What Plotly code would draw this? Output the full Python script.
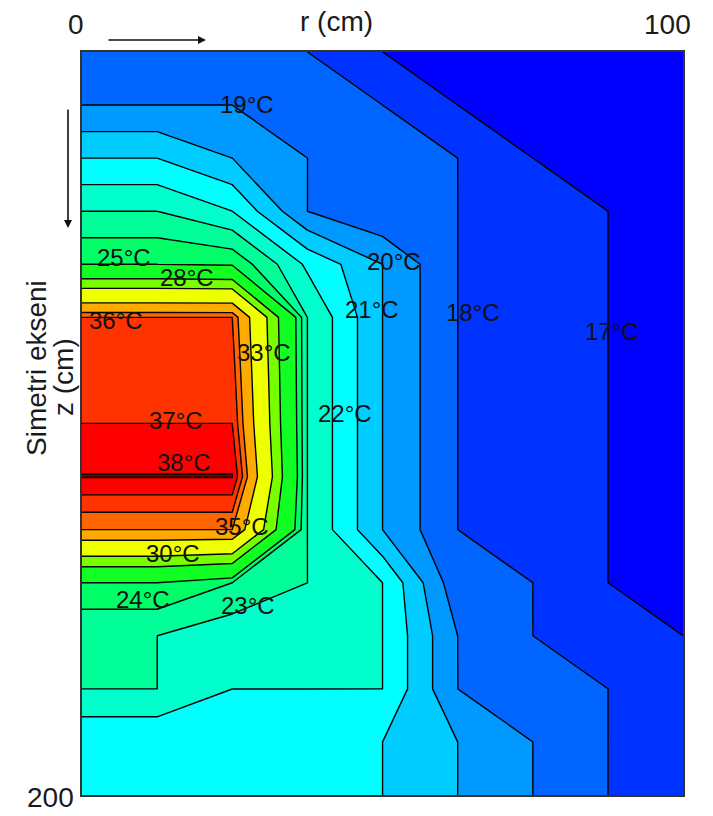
import plotly.graph_objects as go

# ---------------- data ----------------
r_cm = [0, 12.5, 25, 37.5, 50, 62.5, 75, 87.5, 100]
z_cm = [0, 14.29, 28.57, 42.86, 57.14, 71.43, 85.71, 100, 114.29,
        128.57, 142.86, 157.14, 171.43, 185.71, 200]

# temperature (degC): one row per z node, one column per r node
temperature_c = [
    [18.6, 18.6, 18.6, 18.0, 17.0, 16.6, 16.4, 16.3, 16.2],
    [19.0, 19.0, 19.0, 18.6, 18.0, 17.0, 16.6, 16.4, 16.3],
    [21.0, 21.0, 20.0, 19.0, 18.5, 18.0, 17.0, 16.6, 16.4],
    [23.0, 23.0, 22.0, 19.0, 18.1, 18.0, 17.5, 17.0, 16.5],
    [25.0, 25.0, 24.8, 21.8, 20.0, 18.0, 17.5, 17.0, 16.5],
    [36.0, 36.0, 36.0, 23.0, 20.0, 18.0, 17.5, 17.0, 16.5],
    [36.5, 36.5, 36.5, 23.0, 20.0, 18.0, 17.5, 17.0, 16.5],
    [37.0, 37.0, 37.0, 23.0, 20.0, 18.0, 17.5, 17.0, 16.5],
    [38.05, 38.05, 38.05, 23.0, 20.0, 18.0, 17.5, 17.0, 16.5],
    [35.0, 35.0, 35.0, 23.0, 20.0, 18.0, 17.5, 17.0, 16.5],
    [25.0, 25.0, 24.0, 23.0, 22.0, 18.3, 18.0, 17.0, 16.5],
    [23.0, 23.0, 22.3, 22.5, 22.0, 19.0, 18.0, 17.5, 17.0],
    [23.0, 23.0, 22.0, 22.0, 22.0, 19.0, 18.5, 18.0, 17.5],
    [21.1, 21.1, 21.5, 21.5, 21.0, 20.0, 19.0, 18.0, 17.5],
    [21.5, 21.5, 21.5, 21.5, 21.0, 20.0, 19.0, 18.0, 17.5],
]

contour_levels = [17, 18, 19, 20, 21, 22, 23, 24, 25, 28, 30, 33, 35, 36, 37, 38]

band_colors = ['#0000FF', '#0033FF', '#0066FF', '#0099FF', '#00CCFF', '#00FFFF',
               '#00FFCC', '#00FF99', '#00FF66', '#11FF22', '#77FF00', '#EEFF00',
               '#FFAA00', '#FF6600', '#FF3300', '#FF0000', '#700000']

label_texts = ['19°C', '20°C', '21°C', '18°C', '17°C', '22°C', '25°C', '28°C',
               '36°C', '33°C', '37°C', '38°C', '35°C', '30°C', '24°C', '23°C']
label_r = [27.5, 51.9, 48.3, 65.1, 88.2, 43.8, 7.0, 17.5,
           5.7, 30.3, 15.6, 17.0, 26.6, 15.1, 10.1, 27.6]
label_z = [14.0, 56.5, 69.4, 70.0, 75.1, 97.2, 55.4, 60.6,
           72.4, 80.8, 99.1, 110.4, 127.6, 134.9, 147.5, 148.9]

# ---------------- figure ----------------
EPS = 0.001
fill_start, fill_end = 17 - EPS, 39 - EPS
n_lev = int(round(fill_end - fill_start)) + 1  # 1-degree fill levels
colorscale = []
for j in range(n_lev + 1):
    t_mid = 16.5 + j
    g = sum(1 for L in contour_levels if L <= t_mid)
    c = band_colors[g]
    lo = max(0.0, (j - 0.45) / n_lev)
    hi = min(1.0, (j + 0.45) / n_lev)
    colorscale.append([lo, c])
    colorscale.append([hi, c])

fig = go.Figure()
fig.add_trace(go.Contour(
    x=r_cm, y=z_cm, z=temperature_c,
    autocontour=False,
    contours=dict(start=fill_start, end=fill_end, size=1, coloring='fill', showlines=False),
    colorscale=colorscale, showscale=False, line=dict(width=0, smoothing=0),
    hoverinfo='skip'))

for L in contour_levels:
    fig.add_trace(go.Contour(
        x=r_cm, y=z_cm, z=temperature_c,
        autocontour=False,
        contours=dict(start=L - EPS, end=L - EPS, size=1, coloring='none', showlines=True),
        line=dict(color='black', width=1.4, smoothing=0),
        showscale=False, hoverinfo='skip'))

label_font = dict(family='Liberation Sans Narrow, Arial Narrow, Liberation Sans, Arial, sans-serif',
                  size=24, color='#111111')
annotations = []
for t, rr, zz in zip(label_texts, label_r, label_z):
    annotations.append(dict(x=rr, y=zz, xref='x', yref='y', text=t, showarrow=False,
                            font=label_font, xanchor='center', yanchor='middle'))

W, H = 713, 816
ML, MR, MT, MB = 82, 30, 52, 21
PW, PH = W - ML - MR, H - MT - MB


def px(xp):
    return (xp - ML) / PW


def py(yp):
    return 1 - (yp - MT) / PH


axis_font = dict(family='Liberation Sans, Arial, sans-serif', size=28, color='#1a1a1a')
annotations += [
    dict(x=px(76), y=py(24), xref='paper', yref='paper', text='0', showarrow=False,
         font=axis_font, xanchor='center', yanchor='middle'),
    dict(x=px(667), y=py(24), xref='paper', yref='paper', text='100', showarrow=False,
         font=axis_font, xanchor='center', yanchor='middle'),
    dict(x=px(336), y=py(22), xref='paper', yref='paper', text='r (cm)', showarrow=False,
         font=axis_font, xanchor='center', yanchor='middle'),
    dict(x=px(50), y=py(797), xref='paper', yref='paper', text='200', showarrow=False,
         font=axis_font, xanchor='center', yanchor='middle'),
    dict(x=px(36), y=py(368), xref='paper', yref='paper', text='Simetri ekseni', showarrow=False,
         font=axis_font, xanchor='center', yanchor='middle', textangle=-90),
    dict(x=px(63), y=py(377), xref='paper', yref='paper', text='z (cm)', showarrow=False,
         font=axis_font, xanchor='center', yanchor='middle', textangle=-90),
    # direction arrows
    dict(x=px(206), y=py(40), xref='paper', yref='paper', text='', showarrow=True,
         ax=-99, ay=0, arrowhead=2, arrowsize=1, arrowwidth=1.6, arrowcolor='#111111'),
    dict(x=px(68), y=py(228), xref='paper', yref='paper', text='', showarrow=True,
         ax=0, ay=-120, arrowhead=2, arrowsize=1, arrowwidth=1.6, arrowcolor='#111111'),
]

axis_common = dict(showgrid=False, zeroline=False, showticklabels=False, ticks='',
                   showline=True, mirror=True, linecolor='#333333', linewidth=1.5)
fig.update_layout(
    width=W, height=H,
    margin=dict(l=ML, r=MR, t=MT, b=MB),
    paper_bgcolor='white', plot_bgcolor='white',
    xaxis=dict(range=[0, 100], **axis_common),
    yaxis=dict(range=[200, 0], **axis_common),
    annotations=annotations,
    showlegend=False,
)

fig.write_html('out.html')
